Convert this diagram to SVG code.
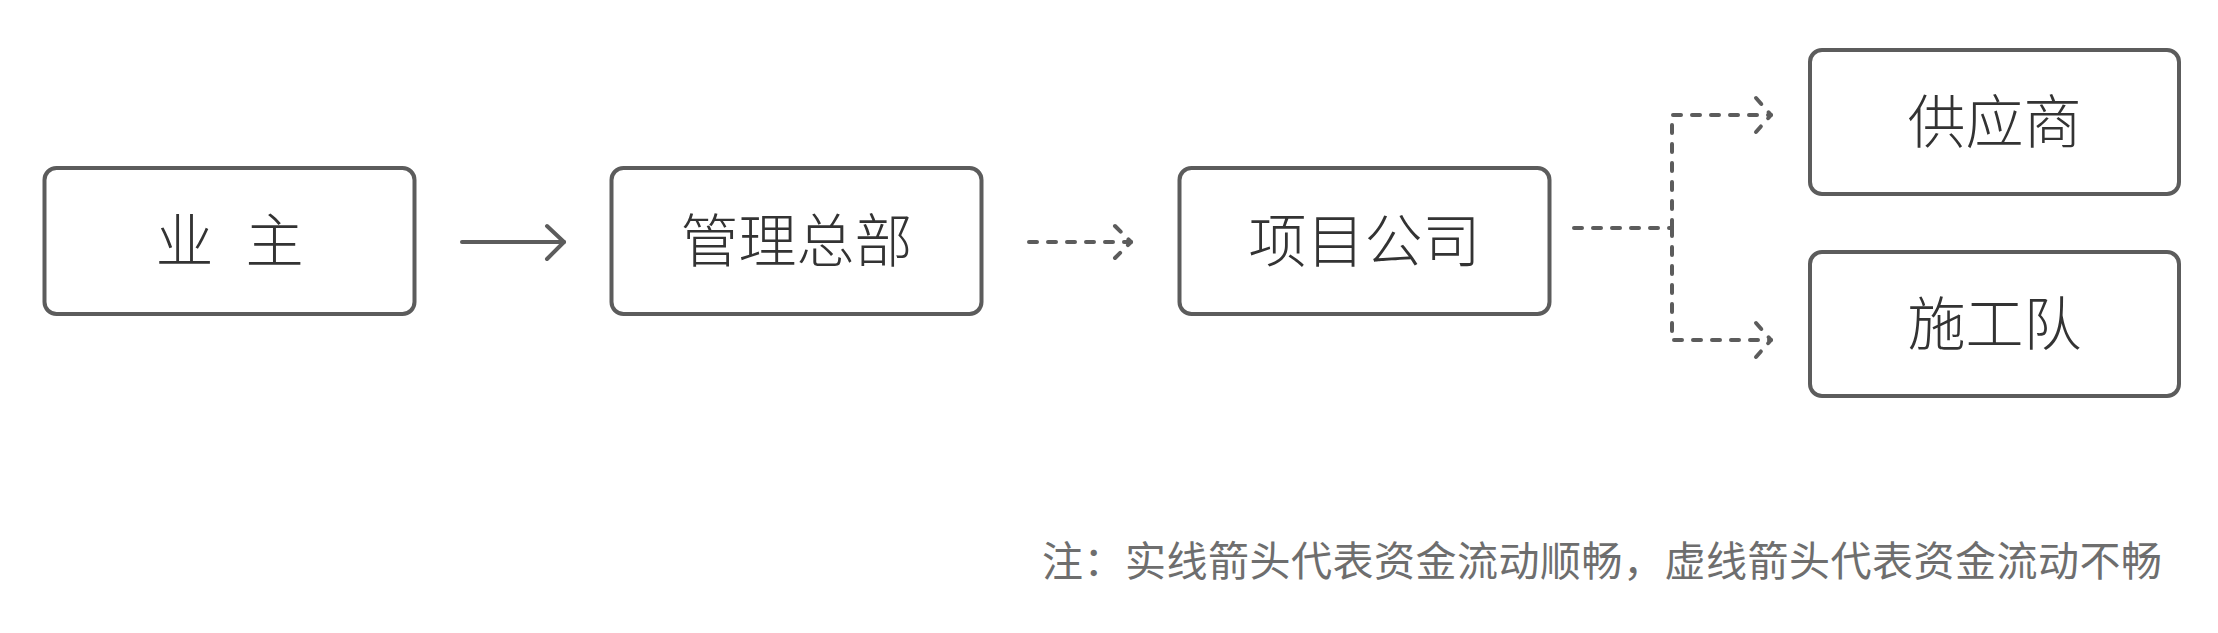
<svg xmlns="http://www.w3.org/2000/svg" width="2218" height="633" viewBox="0 0 2218 633">
<style>
.box{fill:#ffffff;stroke:#5c5c5c;stroke-width:4}
.lbl{font-family:"Noto Sans CJK SC","Noto Sans",sans-serif;font-size:58px;font-weight:300;fill:#333333;text-anchor:middle}
.solid{fill:none;stroke:#5c5c5c;stroke-width:4;stroke-linecap:round;stroke-linejoin:round}
.dash{fill:none;stroke:#5c5c5c;stroke-width:4;stroke-linecap:round;stroke-linejoin:round;stroke-dasharray:8 11}
.note{font-family:"Noto Sans CJK SC","Noto Sans",sans-serif;font-size:41px;fill:#6e6e6e}
</style>
<rect width="2218" height="633" fill="#ffffff"/>
<g id="node-yezhu">
<rect class="box" x="44.5" y="168" width="370" height="146" rx="12"/>
<text class="lbl" x="229.5" y="262" style="word-spacing:19px">业 主</text>
</g>
<g id="node-guanli">
<rect class="box" x="611.5" y="168" width="370" height="146" rx="12"/>
<text class="lbl" x="796.5" y="262">管理总部</text>
</g>
<g id="node-xiangmu">
<rect class="box" x="1179.5" y="168" width="370" height="146" rx="12"/>
<text class="lbl" x="1364.5" y="262">项目公司</text>
</g>
<g id="node-gongying">
<rect class="box" x="1810" y="50" width="369" height="144" rx="12"/>
<text class="lbl" x="1994.5" y="143">供应商</text>
</g>
<g id="node-shigong">
<rect class="box" x="1810" y="252" width="369" height="144" rx="12"/>
<text class="lbl" x="1994.5" y="345">施工队</text>
</g>
<g id="connectors">
<path class="solid" d="M462 242 H564"/>
<path class="solid" d="M547 226 L564 242 L547 259"/>
<path class="dash" d="M1029 242 H1131"/>
<path class="dash" d="M1115 226 L1131 242 L1115 258"/>
<path class="dash" d="M1574 228 H1672"/>
<path class="dash" d="M1672 228 V115 H1771"/>
<path class="dash" d="M1672 228 V340 H1771"/>
<path class="dash" d="M1756 98 L1771 115 L1756 132"/>
<path class="dash" d="M1756 323 L1771 340 L1756 357"/>
</g>
<text class="note" x="1042" y="576" textLength="1120" lengthAdjust="spacing">注：实线箭头代表资金流动顺畅，虚线箭头代表资金流动不畅</text>
</svg>
